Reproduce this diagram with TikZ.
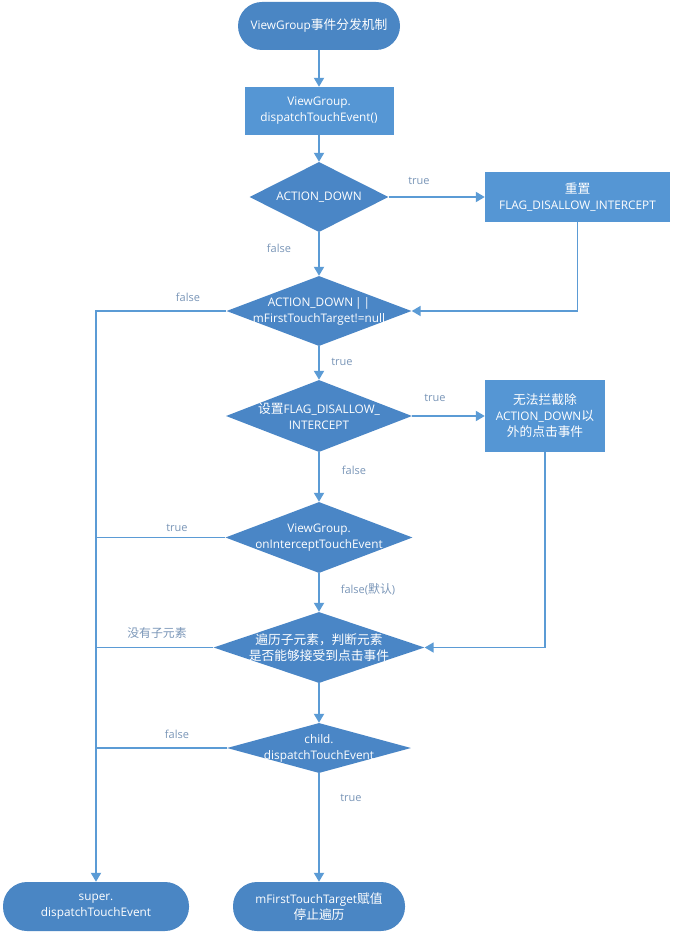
\documentclass[tikz,border=0pt]{standalone}
\usepackage{fontspec}
\setmainfont{Open Sans}
\newfontfamily\cjkfont[Scale=1.08]{Noto Sans CJK SC}
\newcommand\zh[1]{{\cjkfont #1}}
\usetikzlibrary{shapes.geometric,arrows.meta}
\definecolor{linec}{HTML}{5B9BD5}
\definecolor{boxc}{HTML}{5596D4}
\definecolor{diac}{HTML}{4A86C6}
\definecolor{termc}{HTML}{4A86C4}
\definecolor{lblc}{HTML}{7A96B8}
\begin{document}
\begin{tikzpicture}[x=1pt,y=-1pt,
  txt/.style={text=white,font=\fontsize{11.8}{16}\selectfont,align=center},
  term/.style={draw=none,fill=termc,rounded corners=24pt,inner sep=0pt},
  procbox/.style={draw=none,fill=boxc,inner sep=0pt},
  dia/.style={diamond,draw=none,fill=diac,inner sep=0pt},
  conn/.style={draw=linec,line width=1.8pt,-{Triangle[length=9pt,width=10pt]}},
  plain/.style={draw=linec,line width=1.8pt},
  lbl/.style={text=lblc,font=\fontsize{11}{13}\selectfont,inner sep=0pt}]
\useasboundingbox[fill=white] (0,0) rectangle (674,936);

\node[term,minimum width=162pt,minimum height=48pt,
  label={[txt]center:ViewGroup\zh{事件分发机制}}] (start) at (319,26) {};
\node[procbox,minimum width=149pt,minimum height=48pt,
  label={[txt]center:ViewGroup.\\dispatchTouchEvent()}] (box1) at (319,111) {};
\node[dia,minimum width=139pt,minimum height=70pt,
  label={[txt]center:ACTION\_DOWN}] (d1) at (319,197) {};
\node[procbox,minimum width=185pt,minimum height=49pt,
  label={[txt]center:\zh{重置}\\FLAG\_DISALLOW\_INTERCEPT}] (r1) at (577.5,197) {};
\node[dia,minimum width=185pt,minimum height=70pt,
  label={[txt]center:ACTION\_DOWN\,|\,|\\mFirstTouchTarget!=null}] (d2) at (319,311) {};
\node[dia,minimum width=186pt,minimum height=72pt,
  label={[txt]center:\zh{设置}FLAG\_DISALLOW\_\\INTERCEPT}] (d3) at (319,416) {};
\node[procbox,minimum width=120pt,minimum height=72pt,
  label={[txt]center:\zh{无法拦截除}\\ACTION\_DOWN\zh{以}\\\zh{外的点击事件}}] (r2) at (545,416) {};
\node[dia,minimum width=187pt,minimum height=71pt,
  label={[txt]center:ViewGroup.\\onInterceptTouchEvent}] (d4) at (319,537.5) {};
\node[dia,minimum width=211pt,minimum height=71pt,
  label={[txt]center:\zh{遍历子元素，判断元素}\\\zh{是否能够接受到点击事件}}] (d5) at (319,647.5) {};
\node[dia,minimum width=184pt,minimum height=50pt,
  label={[txt]center:child.\\dispatchTouchEvent}] (d6) at (319,748) {};
\node[term,minimum width=186pt,minimum height=49pt,
  label={[txt]center:super.\\dispatchTouchEvent}] (endL) at (96,906.5) {};
\node[term,minimum width=172pt,minimum height=49pt,
  label={[txt]center:mFirstTouchTarget\zh{赋值}\\\zh{停止遍历}}] (endR) at (319,906.5) {};

\draw[conn] (start) -- (box1);
\draw[conn] (box1) -- (d1);
\draw[conn] (d1.east) -- (r1.west);
\draw[conn] (d1.south) -- (d2.north);
\draw[conn] (r1.south) |- (d2.east);
\draw[conn] (d2.west) -| (endL.north);
\draw[conn] (d2.south) -- (d3.north);
\draw[conn] (d3.east) -- (r2.west);
\draw[conn] (d3.south) -- (d4.north);
\draw[plain] (d4.west) -- (d4.west -| endL.north);
\draw[conn] (d4.south) -- (d5.north);
\draw[conn] (r2.south) |- (d5.east);
\draw[plain] (d5.west) -- (d5.west -| endL.north);
\draw[conn] (d5.south) -- (d6.north);
\draw[plain] (d6.west) -- (d6.west -| endL.north);
\draw[conn] (d6.south) -- (endR.north);

\node[lbl] (l1) at (419,181) {true};
\node[lbl] (l2) at (279,248) {false};
\node[lbl] (l3) at (188,297) {false};
\node[lbl] (l4) at (342,362) {true};
\node[lbl] (l5) at (435,398) {true};
\node[lbl] (l6) at (354,470) {false};
\node[lbl] (l7) at (177,528) {true};
\node[lbl] (l8) at (368,589) {false(\zh{默认})};
\node[lbl] (l9) at (157,633) {\zh{没有子元素}};
\node[lbl] (l10) at (177,734) {false};
\node[lbl] (l11) at (351,798) {true};
\end{tikzpicture}
\end{document}
